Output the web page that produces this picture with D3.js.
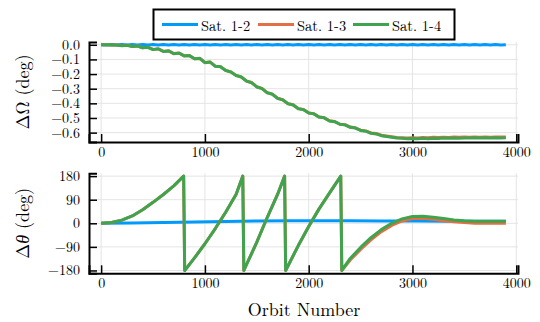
<!DOCTYPE html>
<html>
<head>
<meta charset="utf-8">
<script src="https://cdn.jsdelivr.net/npm/d3@7"></script>
<style>
  body { margin: 0; background: #fff; }
  svg text { font-family: "Latin Modern Roman", "Liberation Serif", serif; fill: #000; }
</style>
</head>
<body>
<div id="chart"></div>
<script>
// orbit numbers for the ΔΩ panel (every 50 orbits)
const omegaOrbits = d3.range(0, 3901, 50);

const omega12 = [
  0.000, -0.002, 0.002, -0.002, 0.002, -0.002, 0.002, -0.002, 0.002, -0.002,
  0.002, -0.002, 0.002, -0.002, 0.002, -0.002, 0.002, -0.002, 0.002, -0.002,
  0.002, -0.002, 0.002, -0.002, 0.002, -0.002, 0.002, -0.002, 0.002, -0.002,
  0.002, -0.002, 0.002, -0.002, 0.002, -0.002, 0.002, -0.002, 0.002, -0.002,
  0.002, -0.002, 0.002, -0.002, 0.002, -0.002, 0.002, -0.002, 0.002, -0.002,
  0.002, -0.002, 0.002, -0.002, 0.002, -0.002, 0.002, -0.002, 0.002, -0.002,
  0.002, -0.002, 0.002, -0.002, 0.002, -0.002, 0.002, -0.002, 0.002, -0.002,
  0.002, -0.002, 0.002, -0.002, 0.002, -0.002, 0.002, -0.002, 0.000
];

const omega14 = [
  0.000, 0.000, -0.002, -0.001, -0.006, -0.004, -0.012, -0.009, -0.021, -0.017,
  -0.033, -0.028, -0.046, -0.042, -0.061, -0.057, -0.076, -0.074, -0.096, -0.093,
  -0.122, -0.118, -0.147, -0.150, -0.176, -0.186, -0.210, -0.220, -0.248, -0.259,
  -0.288, -0.299, -0.328, -0.338, -0.366, -0.376, -0.403, -0.411, -0.437, -0.443,
  -0.466, -0.472, -0.494, -0.499, -0.520, -0.525, -0.543, -0.547, -0.564, -0.569,
  -0.585, -0.590, -0.605, -0.609, -0.621, -0.627, -0.632, -0.637, -0.639, -0.642,
  -0.640, -0.642, -0.639, -0.641, -0.638, -0.640, -0.637, -0.639, -0.636, -0.638,
  -0.636, -0.637, -0.635, -0.637, -0.635, -0.637, -0.635, -0.636, -0.635
];

const omega13 = [
  0.000, 0.000, -0.001, -0.001, -0.005, -0.003, -0.011, -0.008, -0.020, -0.016,
  -0.032, -0.027, -0.045, -0.041, -0.060, -0.056, -0.075, -0.073, -0.095, -0.092,
  -0.121, -0.117, -0.146, -0.149, -0.175, -0.185, -0.209, -0.219, -0.247, -0.258,
  -0.287, -0.298, -0.327, -0.337, -0.365, -0.375, -0.402, -0.410, -0.436, -0.442,
  -0.465, -0.471, -0.493, -0.498, -0.519, -0.524, -0.542, -0.546, -0.562, -0.567,
  -0.583, -0.588, -0.602, -0.606, -0.618, -0.623, -0.628, -0.633, -0.635, -0.637,
  -0.635, -0.636, -0.633, -0.635, -0.632, -0.634, -0.631, -0.633, -0.630, -0.632,
  -0.630, -0.631, -0.629, -0.631, -0.629, -0.631, -0.629, -0.630, -0.629
];

// Δθ panel (wrapped to ±180)
const thetaOrbits = [
  0, 100, 200, 300, 400, 500, 600, 700, 795, 805,
  900, 1000, 1100, 1200, 1300, 1365, 1375, 1500, 1600, 1700,
  1768, 1778, 1900, 2000, 2100, 2200, 2309, 2319, 2400, 2500,
  2600, 2700, 2800, 2900, 3000, 3100, 3200, 3300, 3400, 3500,
  3600, 3700, 3800, 3900
];

const theta14 = [
  0, 3, 12, 28, 52, 80, 110, 143, 180, -180,
  -132, -78, -20, 42, 110, 180, -180, -72, 22, 110,
  180, -180, -85, -12, 55, 115, 180, -180, -134, -92,
  -55, -24, 0, 17, 26, 27, 23, 18, 13, 10,
  8, 8, 8, 8
];

const theta13 = [
  0, 3, 12, 28, 52, 80, 110, 143, 180, -180,
  -132, -78, -20, 42, 110, 180, -180, -72, 22, 110,
  180, -180, -85, -12, 55, 115, 180, -180, -140, -100,
  -63, -32, -8, 9, 18, 19, 15, 10, 6, 3,
  0, 0, 0, 0
];

const theta12Orbits = [0, 300, 600, 900, 1200, 1500, 1800, 2100, 2400, 2700, 3000, 3300, 3600, 3900];
const theta12 = [0, 1, 3, 5, 7, 9, 10, 10, 10, 9, 9, 8, 8, 8];

const seriesNames = ["Sat. 1-2", "Sat. 1-3", "Sat. 1-4"];
const colors = ["#009AFA", "#E26F46", "#3EA44E"];

const xTicks = [0, 1000, 2000, 3000, 4000];
const omegaTicks = [0.0, -0.1, -0.2, -0.3, -0.4, -0.5, -0.6];
const thetaTicks = [180, 90, 0, -90, -180];

const W = 540, H = 322;
const left = 89, right = 518;
const FONT = "'Latin Modern Roman', 'Liberation Serif', serif";

const svg = d3.select("#chart").append("svg")
  .attr("width", W)
  .attr("height", H)
  .attr("font-family", FONT);

const x = d3.scaleLinear().domain([-117, 4017]).range([left, right]);

const yTop = d3.scaleLinear().domain([-0.664, 0.019]).range([142, 42]);
const yBot = d3.scaleLinear().domain([-190.8, 190.8]).range([273.3, 173.3]);

function panel(y, yTickVals, yFmt, label, top, bottom) {
  const g = svg.append("g");

  // grid
  g.append("g")
    .selectAll("line.vg")
    .data(xTicks)
    .enter().append("line")
    .attr("x1", d => x(d)).attr("x2", d => x(d))
    .attr("y1", top).attr("y2", bottom)
    .attr("stroke", "#e4e4e4").attr("stroke-width", 1);
  g.append("g")
    .selectAll("line.hg")
    .data(yTickVals)
    .enter().append("line")
    .attr("x1", left).attr("x2", right)
    .attr("y1", d => y(d)).attr("y2", d => y(d))
    .attr("stroke", "#e4e4e4").attr("stroke-width", 1);

  const xAxis = d3.axisBottom(x).tickValues(xTicks).tickSize(-8).tickPadding(5).tickFormat(d3.format("d"));
  const yAxis = d3.axisLeft(y).tickValues(yTickVals).tickSize(-8).tickPadding(9).tickFormat(yFmt);

  const gx = g.append("g")
    .attr("transform", `translate(0,${bottom})`)
    .call(xAxis);
  const gy = g.append("g")
    .attr("transform", `translate(${left},0)`)
    .call(yAxis);

  [gx, gy].forEach(a => {
    a.attr("font-family", FONT);
    a.select(".domain").attr("stroke", "#000").attr("stroke-width", 2);
    a.selectAll(".tick line").attr("stroke", "#000").attr("stroke-width", 1.5);
    a.selectAll(".tick text").style("font-size", "14px");
  });

  g.append("text")
    .attr("transform", `translate(25,${(top + bottom) / 2}) rotate(-90)`)
    .attr("text-anchor", "middle")
    .attr("dominant-baseline", "middle")
    .style("font-size", "18px")
    .html(label);

  return g;
}

const gTop = panel(yTop, omegaTicks, d3.format(".1f"), "ΔΩ (deg)", 42, 142);
const gBot = panel(yBot, thetaTicks, d3.format("d"), "Δ<tspan font-style='italic'>θ</tspan> (deg)", 173.3, 273.3);

// lines
const lineTop = d3.line().x((d, i) => x(omegaOrbits[i])).y(d => yTop(d));
[omega12, omega13, omega14].forEach((s, k) => {
  gTop.append("path")
    .datum(s)
    .attr("d", lineTop)
    .attr("fill", "none")
    .attr("stroke", colors[k])
    .attr("stroke-width", 3)
    .attr("stroke-linejoin", "round");
});

const lineBlue = d3.line().x((d, i) => x(theta12Orbits[i])).y(d => yBot(d));
const lineBot = d3.line().x((d, i) => x(thetaOrbits[i])).y(d => yBot(d));
gBot.append("path")
  .datum(theta12)
  .attr("d", lineBlue)
  .attr("fill", "none").attr("stroke", colors[0]).attr("stroke-width", 3);
[theta13, theta14].forEach((s, k) => {
  gBot.append("path")
    .datum(s)
    .attr("d", lineBot)
    .attr("fill", "none")
    .attr("stroke", colors[k + 1])
    .attr("stroke-width", 3)
    .attr("stroke-linejoin", "round");
});

// x label
svg.append("text")
  .attr("x", 304).attr("y", 316)
  .attr("text-anchor", "middle")
  .style("font-size", "18px")
  .text("Orbit Number");

// legend
const leg = svg.append("g");
leg.append("rect")
  .attr("x", 153.5).attr("y", 9.5)
  .attr("width", 301).attr("height", 30)
  .attr("fill", "#fff").attr("stroke", "#000").attr("stroke-width", 2);
const legX = [162, 258, 353];
seriesNames.forEach((name, i) => {
  leg.append("line")
    .attr("x1", legX[i]).attr("x2", legX[i] + 36)
    .attr("y1", 24.5).attr("y2", 24.5)
    .attr("stroke", colors[i]).attr("stroke-width", 3);
  leg.append("text")
    .attr("x", legX[i] + 39).attr("y", 24.5)
    .attr("dominant-baseline", "central")
    .style("font-size", "14.5px")
    .text(name);
});
</script>
</body>
</html>
